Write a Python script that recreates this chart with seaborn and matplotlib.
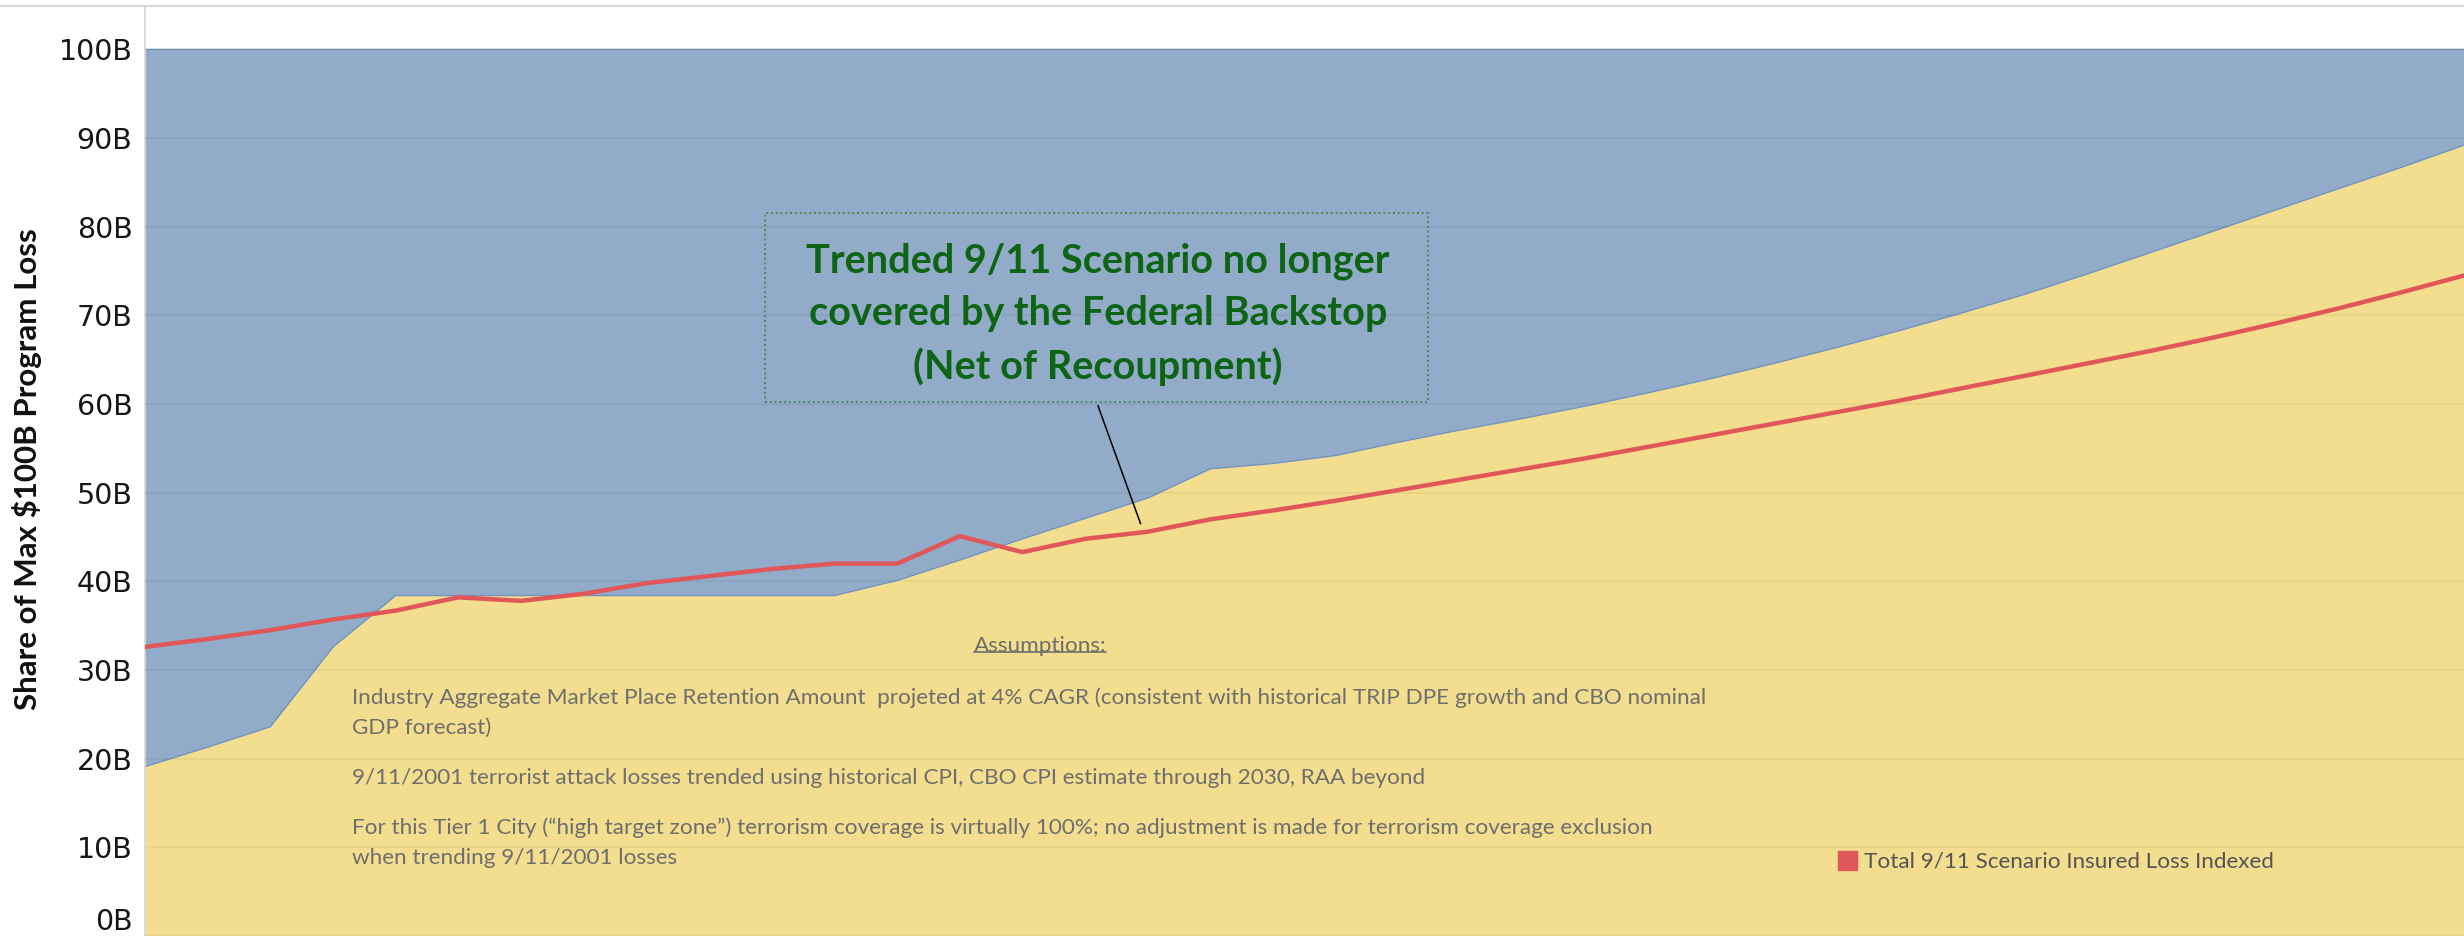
import matplotlib
matplotlib.use("Agg")
import matplotlib.pyplot as plt
import pandas as pd
import seaborn as sns
from matplotlib.patches import Rectangle
from matplotlib.lines import Line2D

# one point per year, no x labels shown in the source
years = list(range(2016, 2054))

# industry aggregate market place retention (top of the yellow area), $B
retention = [19.1, 21.3, 23.6, 32.6, 38.4, 38.4, 38.4, 38.4, 38.4, 38.4,
             38.4, 38.4, 40.1, 42.4, 44.8, 47.1, 49.4, 52.7, 53.3, 54.2,
             55.7, 57.1, 58.4, 59.8, 61.3, 62.9, 64.6, 66.4, 68.3, 70.3,
             72.4, 74.7, 77.1, 79.5, 81.9, 84.3, 86.7, 89.2]

# total 9/11 scenario insured loss indexed, $B
insured_loss = [32.6, 33.5, 34.5, 35.7, 36.7, 38.2, 37.8, 38.6, 39.8, 40.6,
                41.4, 42.0, 42.0, 45.1, 43.3, 44.8, 45.6, 47.0, 48.0, 49.1,
                50.3, 51.5, 52.7, 53.9, 55.2, 56.5, 57.8, 59.1, 60.4, 61.8,
                63.2, 64.6, 66.0, 67.5, 69.1, 70.8, 72.6, 74.5]

program_cap = [100.0] * len(years)
y_ticks = [0, 10, 20, 30, 40, 50, 60, 70, 80, 90, 100]
y_tick_labels = ["0B", "10B", "20B", "30B", "40B", "50B", "60B", "70B", "80B", "90B", "100B"]

df = pd.DataFrame({"year": years, "retention": retention,
                   "loss": insured_loss, "cap": program_cap})

BLUE = "#92abc8"
YELLOW = "#f2de8e"
EDGE = "#7594b8"
RED = "#e15759"

sns.set_style("white")
plt.rcParams["font.family"] = ["Lato", "DejaVu Sans"]

W, H = 2464, 936
fig = plt.figure(figsize=(W / 100, H / 100), dpi=100)
ax = fig.add_axes([145 / W, 0, 1 - 145 / W, 930 / H])


def fx(x):
    return x / W


def fy(y):
    return 1 - y / H


ax.fill_between(df["year"], df["retention"], df["cap"], color=BLUE, lw=0, zorder=1)
ax.fill_between(df["year"], 0, df["retention"], color=YELLOW, lw=0, zorder=1)
ax.plot(df["year"], df["retention"], color=EDGE, lw=1.0, zorder=2)
ax.plot(df["year"], df["cap"], color=EDGE, lw=1.0, zorder=2)
sns.lineplot(data=df, x="year", y="loss", color=RED, lw=3.2, ax=ax, zorder=4, legend=False)

ax.set_xlim(years[0], years[-1])
ax.set_ylim(0, 104.9)
ax.set_xticks([])
ax.set_yticks(y_ticks)
ax.set_yticklabels(y_tick_labels)
ax.set_xlabel("")
ax.set_ylabel("")
ax.set_axisbelow(False)
ax.grid(axis="y", color="black", alpha=0.045, lw=1.5)
ax.tick_params(axis="y", length=0, pad=9, labelsize=20.5, labelcolor="#161616")
for lab in ax.get_yticklabels():
    lab.set_family("DejaVu Sans")
ax.get_yticklabels()[0].set_va("bottom")

for s in ["top", "right", "bottom"]:
    ax.spines[s].set_visible(False)
ax.spines["left"].set_color("#d6d6d6")
ax.spines["left"].set_linewidth(1.2)

fig.add_artist(Line2D([0, 1], [fy(6), fy(6)], transform=fig.transFigure,
                      color="#d6d6d6", lw=1.5))

fig.text(fx(27), fy(469), "Share of Max $100B Program Loss", rotation=90,
         ha="center", va="center", fontsize=22.5, fontweight="bold", color="#111111")

# callout box
fig.add_artist(Rectangle((fx(765), fy(402)), (1428 - 765) / W, (402 - 213) / H,
                         transform=fig.transFigure, fill=False,
                         edgecolor="#3d8a4c", lw=1.3, ls=":"))
callout = ["Trended 9/11 Scenario no longer",
           "covered by the Federal Backstop",
           "(Net of Recoupment)"]
for txt, yy in zip(callout, [261, 314, 367]):
    fig.text(fx(1098), fy(yy), txt, ha="center", va="center", fontsize=28.5,
             fontweight="bold", color="#0c6414")
ax.annotate("", xy=(years[16] - 0.1, insured_loss[16] + 0.6), xycoords="data",
            xytext=(fx(1097), fy(403)), textcoords="figure fraction",
            arrowprops=dict(arrowstyle="-", color="black", lw=1.1), zorder=5)

# assumptions note
GRAY = "#6e6e6e"
head = fig.text(fx(1040), fy(646), "Assumptions:", ha="center", va="center",
                fontsize=16.2, color=GRAY)
notes = [
    ("Industry Aggregate Market Place Retention Amount  projeted at 4% CAGR "
     "(consistent with historical TRIP DPE growth and CBO nominal", 698),
    ("GDP forecast)", 728),
    ("9/11/2001 terrorist attack losses trended using historical CPI, CBO CPI "
     "estimate through 2030, RAA beyond", 778),
    ("For this Tier 1 City (\u201chigh target zone\u201d) terrorism coverage is "
     "virtually 100%; no adjustment is made for terrorism coverage exclusion", 828),
    ("when trending 9/11/2001 losses", 858),
]
for txt, yy in notes:
    fig.text(fx(352), fy(yy), txt, ha="left", va="center", fontsize=16.2, color=GRAY)

fig.canvas.draw()
bb = head.get_window_extent().transformed(fig.transFigure.inverted())
fig.add_artist(Line2D([bb.x0, bb.x1], [bb.y0 + 0.004, bb.y0 + 0.004],
                      transform=fig.transFigure, color=GRAY, lw=1.2))

# legend
fig.add_artist(Rectangle((fx(1838), fy(870)), 19 / W, 19 / H,
                         transform=fig.transFigure, color=RED))
fig.text(fx(1864), fy(861), "Total 9/11 Scenario Insured Loss Indexed",
         ha="left", va="center", fontsize=16.2, color="#555555")

fig.savefig("out.png", dpi=100)
